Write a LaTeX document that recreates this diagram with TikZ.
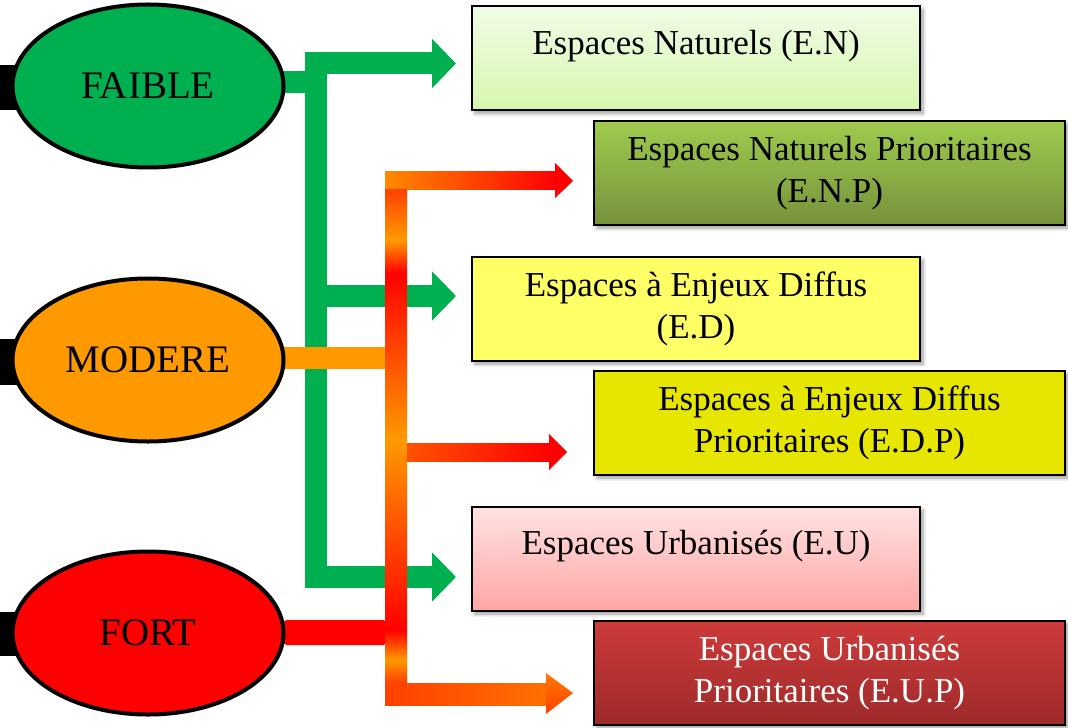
\documentclass[tikz,border=0pt]{standalone}
\usepackage{fontspec}
\setmainfont{Liberation Serif}
\usetikzlibrary{shapes.geometric,arrows.meta,shadows.blur,calc}
\definecolor{gr}{HTML}{00B050}
\definecolor{org}{HTML}{FF9900}
\definecolor{rd}{HTML}{FF0000}
\definecolor{redorg}{HTML}{FF4000}
\definecolor{midorg}{HTML}{FF7000}
\definecolor{enTop}{HTML}{F0FCE6}
\definecolor{enBot}{HTML}{D6F7AE}
\definecolor{enpTop}{HTML}{9FCB4E}
\definecolor{enpBot}{HTML}{76923C}
\definecolor{edFill}{HTML}{FFFF66}
\definecolor{edpFill}{HTML}{E6E600}
\definecolor{euTop}{HTML}{FFE2E2}
\definecolor{euBot}{HTML}{FFA5A5}
\definecolor{eupTop}{HTML}{CE3B3B}
\definecolor{eupBot}{HTML}{9E2A2A}
\begin{document}
\begin{tikzpicture}[x=0.5pt,y=-0.5pt,
  lvl/.style={ellipse, draw=black, line width=2pt, minimum width=135.5pt,
    minimum height=81.5pt, inner sep=0pt, font=\fontsize{19.5}{22}\selectfont},
  box/.style={rectangle, draw=black, line width=1pt, minimum height=52pt,
    inner sep=0pt, align=center, font=\fontsize{17.5}{21}\selectfont,
    blur shadow={shadow blur steps=6, shadow xshift=1.5pt, shadow yshift=-1.5pt, shadow opacity=40}},
  narrow/.style={box, minimum width=224pt},
  wide/.style={box, minimum width=235.5pt},
  oneline/.style={text height=12.5pt, text depth=16.8pt},
  garrow/.style={draw=gr, line width=11pt, -{Triangle[length=12pt,width=24pt]}, shorten >=7.5pt},
  gline/.style={draw=gr, line width=11pt},
  tab/.style={fill=black}
]
\useasboundingbox (0,0) rectangle (1068,727);

% boxes
\node[narrow, oneline, top color=enTop, bottom color=enBot] (en) at (696,58.5) {Espaces Naturels (E.N)};
\node[wide, top color=enpTop, bottom color=enpBot] (enp) at (829.5,173) {Espaces Naturels Prioritaires\\(E.N.P)};
\node[narrow, fill=edFill] (ed) at (696,309) {Espaces à Enjeux Diffus\\(E.D)};
\node[wide, fill=edpFill] (edp) at (829.5,423) {Espaces à Enjeux Diffus\\Prioritaires (E.D.P)};
\node[narrow, oneline, top color=euTop, bottom color=euBot] (eu) at (696,559) {Espaces Urbanisés (E.U)};
\node[wide, top color=eupTop, bottom color=eupBot, text=white] (eup) at (829.5,673) {Espaces Urbanisés\\Prioritaires (E.U.P)};

% tabs
\fill[tab] (0,65) rectangle (18,110);
\fill[tab] (0,339) rectangle (18,385);
\fill[tab] (0,612) rectangle (18,656);

% green connectors
\coordinate (gs) at (316,82);
\coordinate (g1) at (305,63.5);
\coordinate (g2) at (316,296);
\coordinate (g3) at (305,577);
\draw[gline] (283,82) -- (gs);
\draw[gline] (316,52) -- (316,588);
\draw[garrow] (g1) -- (g1 -| en.west);
\draw[garrow] (g2) -- (g2 -| ed.west);
\draw[garrow] (g3) -- (g3 -| eu.west);

% level stubs
\fill[org] (283,347) rectangle (387,369);
\fill[rd, rounded corners=2pt] (283,620) rectangle (387,645);

% gradient connectors (orange/red)
% top branch to E.N.P
\shade[left color=org!90!red, right color=rd] (385,172) rectangle (556,189);
\fill[rd] (555,163) -- (573,181) -- (555,198) -- cycle;
% vertical trunk
\shade[top color=redorg, bottom color=org] (385,189) rectangle (407,240);
\shade[top color=org, bottom color=rd] (385,240) rectangle (407,273);
\shade[top color=rd, bottom color=org] (385,273) rectangle (407,440);
\shade[top color=org, bottom color=rd] (385,440) rectangle (407,630);
\shade[top color=rd, bottom color=org] (385,630) rectangle (407,660);
\shade[top color=org, bottom color=redorg] (385,660) rectangle (407,683);
% branch to E.D.P
\shade[left color=redorg!80!org, right color=rd] (407,443) rectangle (550,461);
\fill[rd] (549,434) -- (567,452) -- (549,470) -- cycle;
% bottom branch to E.U.P
\shade[left color=redorg, right color=midorg] (385,683) rectangle (547,705);
\shade[top color=org!80!red, bottom color=redorg] (546,673) -- (573,693) -- (546,714) -- cycle;

% levels
\node[lvl, fill=gr] (faible) at (148,86) {FAIBLE};
\node[lvl, fill=org] (modere) at (148,360) {MODERE};
\node[lvl, fill=rd] (fort) at (148,633) {FORT};
\end{tikzpicture}
\end{document}
